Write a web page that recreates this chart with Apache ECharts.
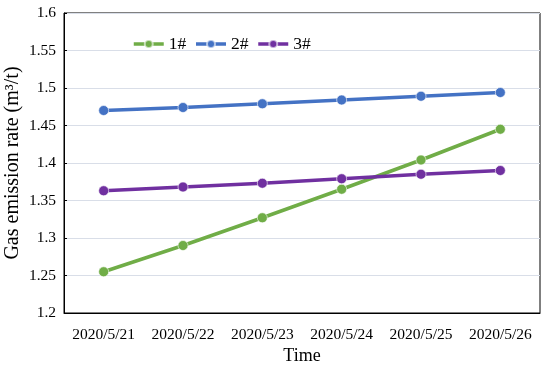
<!DOCTYPE html>
<html>
<head>
<meta charset="utf-8">
<script src="https://cdn.jsdelivr.net/npm/echarts@6/dist/echarts.min.js"></script>
<style>html,body{margin:0;padding:0;background:#fff;}#c{width:550px;height:366px;}</style>
</head>
<body>
<div id="c"></div>
<script>
const categories = ['2020/5/21','2020/5/22','2020/5/23','2020/5/24','2020/5/25','2020/5/26'];
const series1 = [1.255, 1.290, 1.327, 1.365, 1.404, 1.445];
const series2 = [1.470, 1.474, 1.479, 1.484, 1.489, 1.494];
const series3 = [1.363, 1.368, 1.373, 1.379, 1.385, 1.390];
const seriesNames = ['1#','2#','3#'];
const colors = ['#70ad47','#4472c4','#7030a0'];
const font = '"Liberation Serif", "Times New Roman", serif';

const chart = echarts.init(document.getElementById('c'));
function mk(name, data, color) {
  return {
    name, type: 'line', data,
    symbol: 'circle', symbolSize: 10,
    lineStyle: { width: 3.5, color },
    itemStyle: { color, borderColor: 'rgba(255,255,255,0.6)', borderWidth: 1 },
    emphasis: { disabled: true },
    animation: false
  };
}
chart.setOption({
  animation: false,
  color: colors,
  grid: { left: 64, right: 10, top: 13, bottom: 53, show: true, borderColor: '#000', borderWidth: 1,
          containLabel: false, outerBoundsMode: 'none' },
  legend: {
    data: seriesNames,
    left: 127, top: 30,
    itemWidth: 30, itemHeight: 10, itemGap: 8,
    lineStyle: { width: 3.5 },
    textStyle: { fontFamily: font, fontSize: 17.5, color: '#000' }
  },
  xAxis: {
    type: 'category', data: categories, boundaryGap: true,
    name: 'Time', nameLocation: 'middle', nameGap: 34, nameMoveOverlap: false,
    nameTextStyle: { fontFamily: font, fontSize: 18, color: '#000' },
    axisLine: { lineStyle: { color: '#000', width: 1 } },
    axisTick: { inside: true, length: 6, interval: 0, lineStyle: { color: '#000' } },
    axisLabel: { interval: 0, fontFamily: font, fontSize: 15.5, color: '#000', margin: 14 },
    splitLine: { show: false }
  },
  yAxis: {
    type: 'value', min: 1.2, max: 1.6, interval: 0.05,
    name: 'Gas emission rate (m³/t)', nameLocation: 'middle', nameGap: 41, nameMoveOverlap: false,
    nameTextStyle: { fontFamily: font, fontSize: 20, color: '#000' },
    axisLine: { show: true, lineStyle: { color: '#000', width: 1 } },
    axisTick: { show: true, inside: true, length: 3, lineStyle: { color: '#000' } },
    axisLabel: { fontFamily: font, fontSize: 15.5, color: '#000', margin: 8,
      formatter: v => String(parseFloat(v.toFixed(2))) },
    splitLine: { lineStyle: { color: '#d9dee8', width: 1 } }
  },
  series: [mk('1#', series1, colors[0]), mk('2#', series2, colors[1]), mk('3#', series3, colors[2])]
});
</script>
</body>
</html>
